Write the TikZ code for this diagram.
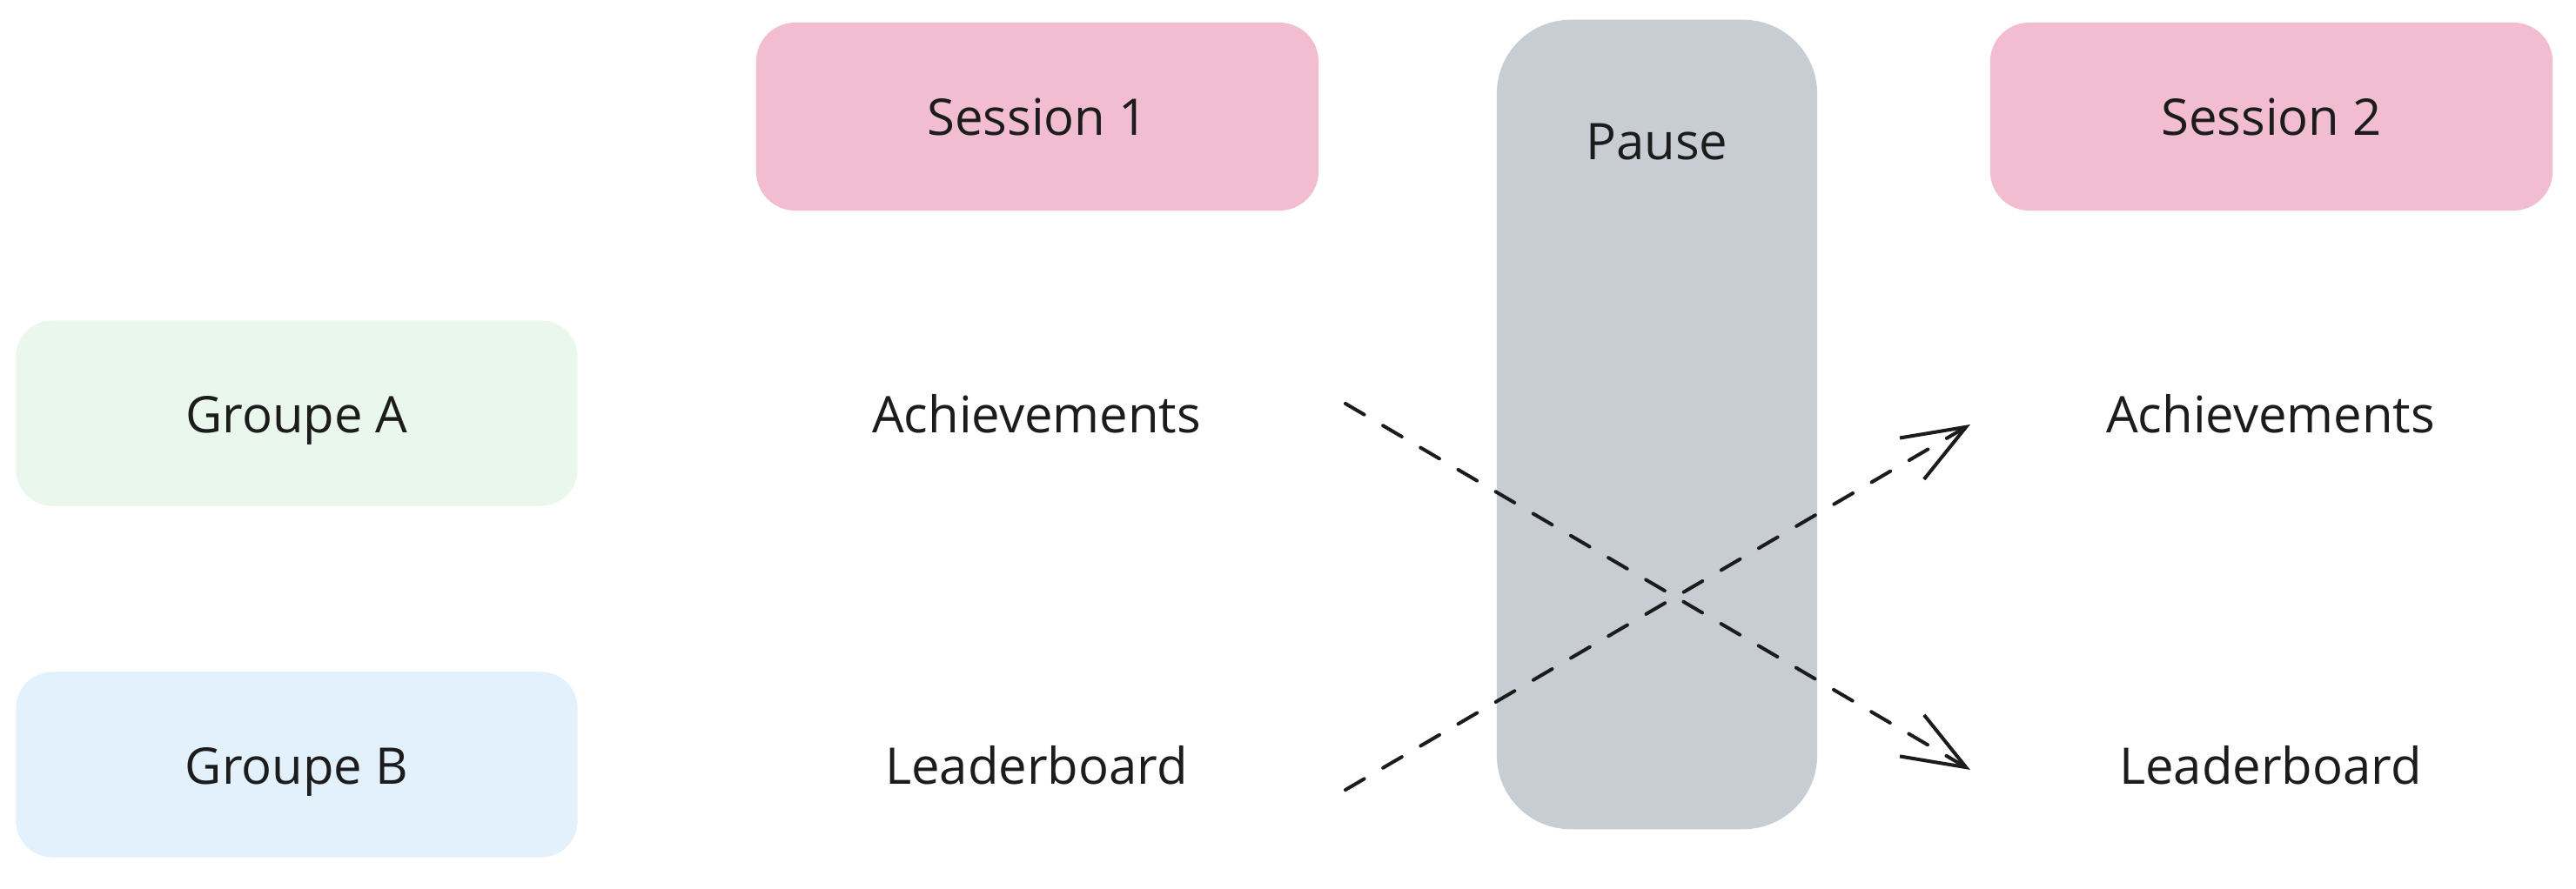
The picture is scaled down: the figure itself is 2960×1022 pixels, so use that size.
\documentclass[tikz,border=0pt]{standalone}
\usepackage{fontspec}
\setmainfont{Open Sans}
\usetikzlibrary{arrows.meta}
\definecolor{sessfill}{HTML}{F2BDD0}
\definecolor{pausefill}{HTML}{C8CDD4}
\definecolor{grpa}{HTML}{EAF7EC}
\definecolor{grpb}{HTML}{E3F1FC}
\definecolor{ink}{HTML}{1C1C1C}
\tikzset{
  txt/.style={text=ink, font=\fontsize{16.5}{20}\selectfont, text height=0.42cm, text depth=0cm},
  box/.style={rectangle, rounded corners=0.45cm, draw=none, inner sep=0pt, txt},
  sessbox/.style={box, fill=sessfill, minimum width=6.46cm, minimum height=2.16cm},
  grpbox/.style={box, minimum width=6.45cm, minimum height=2.13cm, rounded corners=0.42cm},
  pausebox/.style={rectangle, rounded corners=0.85cm, fill=pausefill, inner sep=0pt,
    minimum width=3.68cm, minimum height=9.30cm},
  lbl/.style={inner sep=0pt, txt},
  flow/.style={draw=ink, line width=1.15pt, dash pattern=on 0.25cm off 0.25cm, line cap=round,
    -{Straight Barb[length=0.72cm, width=0.55cm, line width=1.15pt]}}
}
\begin{document}
\begin{tikzpicture}[x=0.01cm, y=-0.01cm]
\useasboundingbox (0,0) rectangle (2960,1022);
\fill[white] (0,0) rectangle (2960,1022);
% headers
\node[sessbox] (s1) at (1192,134) {Session 1};
\node[pausebox] (p) at (1904,488) {};
\node[lbl] (pl) at (1904,162) {Pause};
\node[sessbox] (s2) at (2610,134) {Session 2};
% groups
\node[grpbox, fill=grpa] (ga) at (341,475) {};
\node[lbl] (gat) at (341,476) {Groupe A};
\node[grpbox, fill=grpb] (gb) at (341,879) {};
\node[lbl] (gbt) at (341,880) {Groupe B};
% items
\node[lbl] (a1) at (1191,476) {Achievements};
\node[lbl] (l1) at (1191,880) {Leaderboard};
\node[lbl] (a2) at (2609,476) {Achievements};
\node[lbl] (l2) at (2609,880) {Leaderboard};
% connector ends
\coordinate (a1e) at (1546,464);
\coordinate (l2e) at (2264,885);
\coordinate (l1e) at (1546,908);
\coordinate (a2e) at (2264,488);
\draw[flow] (a1e) -- (l2e);
\draw[flow] (l1e) -- (a2e);
\end{tikzpicture}
\end{document}
